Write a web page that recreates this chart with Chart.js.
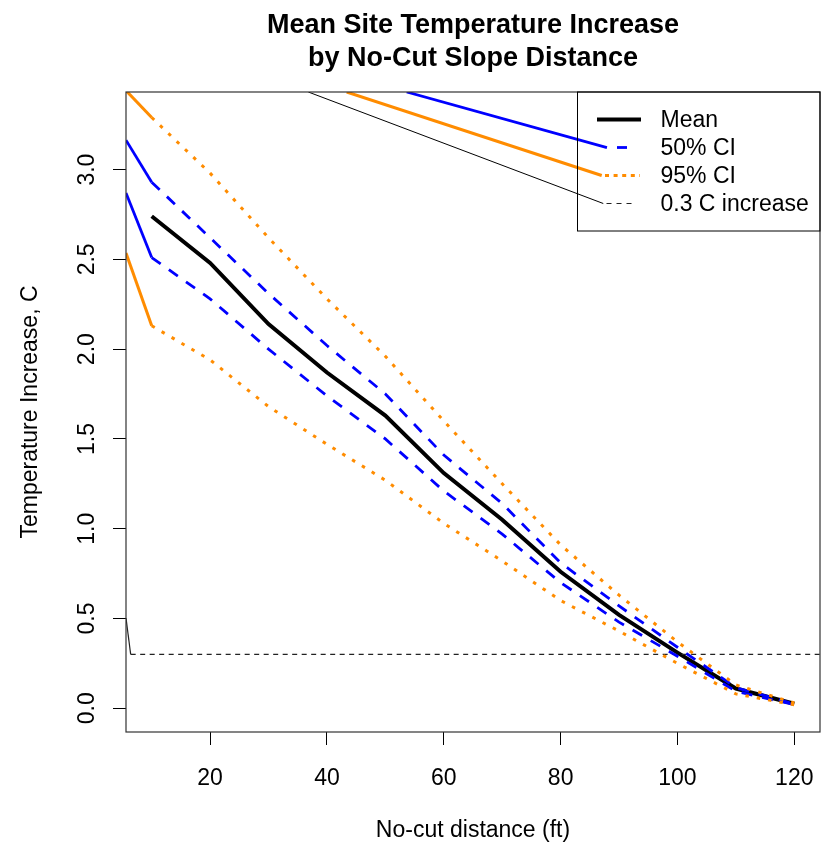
<!DOCTYPE html>
<html><head><meta charset="utf-8">
<script src="https://cdn.jsdelivr.net/npm/chart.js@4.4.0/dist/chart.umd.min.js"></script>
<style>html,body{margin:0;padding:0;background:#fff;}#wrap{width:828px;height:843px;position:relative;}</style>
</head><body><div id="wrap"><canvas id="c"></canvas></div>
<script>
// ---- data ----
const distances    = [10, 20, 30, 40, 50, 60, 70, 80, 90, 100, 110, 120];
const meanIncrease = [2.74, 2.48, 2.14, 1.87, 1.63, 1.31, 1.05, 0.76, 0.52, 0.31, 0.11, 0.025];
const ci50Upper    = [2.93, 2.62, 2.31, 2.02, 1.75, 1.41, 1.14, 0.81, 0.57, 0.34, 0.115, 0.025];
const ci50Lower    = [2.51, 2.28, 2.00, 1.74, 1.50, 1.21, 0.97, 0.70, 0.48, 0.29, 0.095, 0.02];
const ci95Upper    = [3.29, 2.98, 2.62, 2.28, 1.96, 1.60, 1.25, 0.91, 0.63, 0.37, 0.13, 0.03];
const ci95Lower    = [2.13, 1.94, 1.68, 1.47, 1.27, 1.03, 0.82, 0.60, 0.43, 0.25, 0.08, 0.02];
const thresholdValue = 0.3;
const thresholdX     = [6.4, 130];
// stray lead-in segments present in the reference (from the plot's left edge)
const leadStartX   = 5.6;
const leadU95Y     = 3.44;
const leadU50Y     = 3.164;
const leadL50Y     = 2.870;
const leadL95Y     = 2.535;
const thresholdLeadX = [5.6, 6.4];
const thresholdLeadY = [0.502, 0.3];
// stray segments running into the legend samples (50% CI, 95% CI, 0.3 C)
const legendLeadStartX = [53.65, 43.38, 36.81];
const legendLeadEndX   = [87.93, 87.03, 87.30];
const legendLeadEndY   = [3.122, 2.967, 2.811];
// axes
const xTickValues = [20, 40, 60, 80, 100, 120];
const xTickLabels = ['20', '40', '60', '80', '100', '120'];
const yTickValues = [0, 0.5, 1, 1.5, 2, 2.5, 3];
const yTickLabels = ['0.0', '0.5', '1.0', '1.5', '2.0', '2.5', '3.0'];
const xRange = [5.6, 124.4];
const yRange = [-0.132, 3.432];
const titleLines = ['Mean Site Temperature Increase', 'by No-Cut Slope Distance'];
const xTitle = 'No-cut distance (ft)';
const yTitle = 'Temperature Increase, C';
const legendLabels = ['Mean', '50% CI', '95% CI', '0.3 C increase'];

const BLUE = '#0000FF', ORANGE = '#FF8C00', BLACK = '#000000';
const FONT = '"Liberation Sans", Arial, Helvetica, sans-serif';

function pts(xs, ys) { return xs.map((x, i) => ({ x: x, y: ys[i] })); }
function line(data, color, width, dash, order) {
  return { data: data, borderColor: color, backgroundColor: color, borderWidth: width,
    borderDash: dash || [], pointRadius: 0, pointHoverRadius: 0, showLine: true,
    tension: 0, fill: false, order: order, borderJoinStyle: 'miter' };
}

const datasets = [
  line(pts(distances, meanIncrease), BLACK, 4, [], 5),
  line(pts(distances, ci50Upper), BLUE, 2.8, [11, 10], 3),
  line(pts(distances, ci50Lower), BLUE, 2.8, [11, 10], 3),
  line(pts(distances, ci95Upper), ORANGE, 3, [3.5, 8], 2),
  line(pts(distances, ci95Lower), ORANGE, 3, [3.5, 8], 2),
  line(pts([leadStartX, distances[0]], [leadU50Y, ci50Upper[0]]), BLUE, 2.8, [], 3),
  line(pts([leadStartX, distances[0]], [leadL50Y, ci50Lower[0]]), BLUE, 2.8, [], 3),
  line(pts([leadStartX, distances[0]], [leadU95Y, ci95Upper[0]]), ORANGE, 3, [], 2),
  line(pts([leadStartX, distances[0]], [leadL95Y, ci95Lower[0]]), ORANGE, 3, [], 2),
  line(pts(thresholdX, [thresholdValue, thresholdValue]), '#222', 1.2, [5, 4.5], 4),
  line(pts(thresholdLeadX, thresholdLeadY), '#222', 1.2, [], 4),
  line(pts([legendLeadStartX[0], legendLeadEndX[0]], [yRange[1], legendLeadEndY[0]]), BLUE, 2.8, [], 1),
  line(pts([legendLeadStartX[1], legendLeadEndX[1]], [yRange[1], legendLeadEndY[1]]), ORANGE, 3, [], 1),
  line(pts([legendLeadStartX[2], legendLeadEndX[2]], [yRange[1], legendLeadEndY[2]]), BLACK, 1, [], 1)
];

const decor = {
  id: 'decor',
  afterDatasetsDraw(chart) {
    const ctx = chart.ctx, a = chart.chartArea;
    const xs = chart.scales.x, ys = chart.scales.y;
    const cx = (a.left + a.right) / 2, cy = (a.top + a.bottom) / 2;
    ctx.save();
    // plot box
    ctx.strokeStyle = '#333';
    ctx.lineWidth = 1.2;
    ctx.strokeRect(a.left, a.top, a.right - a.left, a.bottom - a.top);
    ctx.fillStyle = '#000';
    // title
    ctx.font = 'bold 27px ' + FONT;
    ctx.textAlign = 'center';
    ctx.textBaseline = 'alphabetic';
    ctx.fillText(titleLines[0], cx, 32.5);
    ctx.fillText(titleLines[1], cx, 66);
    // x tick labels
    ctx.font = '23px ' + FONT;
    xTickValues.forEach((v, i) => ctx.fillText(xTickLabels[i], xs.getPixelForValue(v), 785));
    // x title
    ctx.fillText(xTitle, cx, 837);
    // y tick labels (rotated, as in R)
    yTickValues.forEach((v, i) => {
      ctx.save();
      ctx.translate(93.5, ys.getPixelForValue(v));
      ctx.rotate(-Math.PI / 2);
      ctx.fillText(yTickLabels[i], 0, 0);
      ctx.restore();
    });
    // y title
    ctx.save();
    ctx.translate(36.5, cy);
    ctx.rotate(-Math.PI / 2);
    ctx.fillText(yTitle, 0, 0);
    ctx.restore();
    // legend
    const lx0 = 577, ly0 = a.top, ly1 = 231;
    ctx.strokeStyle = '#000';
    ctx.lineWidth = 1;
    ctx.strokeRect(lx0 + 0.5, ly0, a.right - lx0 - 0.5, ly1 - ly0);
    const rowY = [a.top + 27.5, a.top + 55.5, a.top + 83.5, a.top + 111.5];
    // mean sample
    ctx.beginPath(); ctx.lineWidth = 4; ctx.strokeStyle = BLACK;
    ctx.moveTo(597, rowY[0]); ctx.lineTo(641, rowY[0]); ctx.stroke();
    // 50% sample
    ctx.beginPath(); ctx.lineWidth = 2.8; ctx.strokeStyle = BLUE;
    ctx.moveTo(617, rowY[1]); ctx.lineTo(627, rowY[1]); ctx.stroke();
    // 95% sample
    ctx.beginPath(); ctx.lineWidth = 3; ctx.strokeStyle = ORANGE; ctx.setLineDash([4, 4.6]);
    ctx.moveTo(605, rowY[2]); ctx.lineTo(640, rowY[2]); ctx.stroke();
    // 0.3 sample
    ctx.beginPath(); ctx.lineWidth = 1.2; ctx.strokeStyle = '#222'; ctx.setLineDash([5, 5]);
    ctx.moveTo(606.5, rowY[3]); ctx.lineTo(632, rowY[3]); ctx.stroke();
    ctx.setLineDash([]);
    ctx.fillStyle = '#000';
    ctx.font = '23px ' + FONT;
    ctx.textAlign = 'left';
    ctx.textBaseline = 'middle';
    legendLabels.forEach((t, i) => ctx.fillText(t, 660.5, rowY[i] + 1.5));
    ctx.restore();
  }
};

new Chart(document.getElementById('c'), {
  type: 'scatter',
  data: { datasets: datasets },
  plugins: [decor],
  options: {
    responsive: true,
    maintainAspectRatio: false,
    animation: false,
    events: [],
    layout: { padding: { left: 0, right: 8, top: 92, bottom: 0 } },
    plugins: { legend: { display: false }, tooltip: { enabled: false }, title: { display: false } },
    scales: {
      x: {
        type: 'linear', min: xRange[0], max: xRange[1],
        afterBuildTicks: s => { s.ticks = xTickValues.map(v => ({ value: v })); },
        afterFit: s => { s.height = 111; },
        ticks: { display: false },
        grid: { display: true, drawOnChartArea: false, drawTicks: true, tickLength: 13, color: '#000', lineWidth: 1 },
        border: { display: false }
      },
      y: {
        type: 'linear', min: yRange[0], max: yRange[1],
        afterBuildTicks: s => { s.ticks = yTickValues.map(v => ({ value: v })); },
        afterFit: s => { s.width = 126; },
        ticks: { display: false },
        grid: { display: true, drawOnChartArea: false, drawTicks: true, tickLength: 13, color: '#000', lineWidth: 1 },
        border: { display: false }
      }
    }
  }
});
</script>
</body></html>
